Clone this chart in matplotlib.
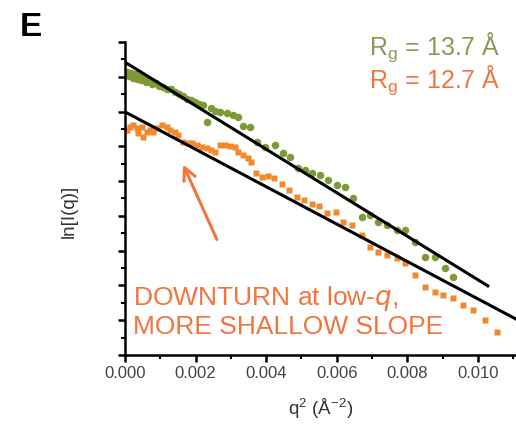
import numpy as np
import matplotlib.pyplot as plt
from matplotlib.ticker import MultipleLocator, FormatStrFormatter, NullFormatter

plt.rcParams['font.family'] = ['Liberation Sans', 'DejaVu Sans']
plt.rcParams['mathtext.default'] = 'regular'

GREEN = '#7d9a35'
ORANGE = '#f08a2c'
TXT_ORANGE = '#f2743e'

# Guinier data, ln I vs q^2 (1/A^2)
q2_a = [0.000057, 0.000113, 0.00017, 0.000227, 0.000283, 0.00034, 0.000397, 0.000453,
        0.00051, 0.000595, 0.00068, 0.000765, 0.00088, 0.000963, 0.001076, 0.00119,
        0.0013, 0.001416, 0.00153, 0.001643, 0.001756, 0.00187, 0.00198, 0.0021,
        0.00221, 0.00232, 0.00244, 0.00255, 0.00269, 0.00289, 0.00306, 0.0032,
        0.00334, 0.00354, 0.00374, 0.00397, 0.00425, 0.00448, 0.00467, 0.0049,
        0.0051, 0.0053, 0.00552, 0.00575, 0.006, 0.00623, 0.00646, 0.00671,
        0.00694, 0.00717, 0.00742, 0.00771, 0.00793, 0.00822, 0.0085, 0.00878,
        0.00907, 0.00929]
lnI_a = [4.014, 4.002, 4.011, 3.996, 4.008, 3.994, 4.002, 3.991,
         3.996, 3.985, 3.991, 3.979, 3.982, 3.973, 3.971, 3.965,
         3.965, 3.956, 3.950, 3.945, 3.936, 3.933, 3.927, 3.922,
         3.919, 3.870, 3.910, 3.902, 3.899, 3.896, 3.890, 3.884,
         3.858, 3.856, 3.812, 3.798, 3.804, 3.781, 3.769, 3.738,
         3.732, 3.723, 3.718, 3.703, 3.689, 3.683, 3.651, 3.597,
         3.603, 3.582, 3.574, 3.559, 3.559, 3.525, 3.482, 3.482,
         3.450, 3.424]

q2_b = [0.000057, 0.000142, 0.000227, 0.00034, 0.000368, 0.000482, 0.00051, 0.000623,
        0.000708, 0.000793, 0.000906, 0.001048, 0.00119, 0.001275, 0.001416, 0.0015,
        0.001643, 0.001785, 0.0019, 0.00204, 0.00218, 0.00232, 0.00244, 0.00255,
        0.00269, 0.00283, 0.00297, 0.00312, 0.0032, 0.00334, 0.00348, 0.00357,
        0.00371, 0.00388, 0.00405, 0.00422, 0.00445, 0.00465, 0.00487, 0.00507,
        0.0053, 0.0055, 0.00572, 0.00598, 0.00618, 0.00643, 0.00671, 0.00694,
        0.00717, 0.00742, 0.00771, 0.00793, 0.00822, 0.0085, 0.00878, 0.009,
        0.00929, 0.00958, 0.00986, 0.0102, 0.01054]
lnI_b = [3.847, 3.856, 3.861, 3.853, 3.838, 3.856, 3.827, 3.841,
         3.847, 3.841, 3.853, 3.861, 3.856, 3.847, 3.841, 3.833,
         3.812, 3.810, 3.810, 3.804, 3.798, 3.795, 3.789, 3.784,
         3.804, 3.804, 3.801, 3.798, 3.784, 3.775, 3.766, 3.755,
         3.723, 3.712, 3.715, 3.709, 3.692, 3.674, 3.654, 3.646,
         3.634, 3.628, 3.608, 3.611, 3.582, 3.574, 3.545, 3.511,
         3.496, 3.488, 3.479, 3.465, 3.430, 3.396, 3.381, 3.373,
         3.364, 3.344, 3.329, 3.301, 3.266]

# Guinier fits: ln I = ln I0 - Rg^2 q^2 / 3
Rg_a, lnI0_a = 13.7, 4.042
Rg_b, lnI0_b = 12.7, 3.899

fig = plt.figure(figsize=(5.16, 4.29), dpi=100)
ax = fig.add_axes([0.2422, 0.1725, 0.7578, 0.7296])

ax.plot(q2_a, lnI_a, 'o', color=GREEN, ms=5.4, mec='none', zorder=2)
ax.plot(q2_b, lnI_b, 's', color=ORANGE, ms=4.4, mec='none', zorder=2)

qa = np.array([0, 0.01028])
qb = np.array([0, 0.0115])
ax.plot(qa, lnI0_a - Rg_a**2 / 3 * qa, color='black', lw=2.2, zorder=3)
ax.plot(qb, lnI0_b - Rg_b**2 / 3 * qb, color='black', lw=2.2, zorder=3)

ax.set_xlim(0, 0.01108)
ax.set_ylim(3.2, 4.1)
ax.xaxis.set_major_locator(MultipleLocator(0.002))
ax.xaxis.set_minor_locator(MultipleLocator(0.001))
ax.xaxis.set_major_formatter(FormatStrFormatter('%.3f'))
ax.yaxis.set_major_locator(MultipleLocator(0.1))
ax.yaxis.set_minor_locator(MultipleLocator(0.05))
ax.yaxis.set_major_formatter(NullFormatter())

for s in ['top', 'right']:
    ax.spines[s].set_visible(False)
for s in ['left', 'bottom']:
    ax.spines[s].set_linewidth(1.8)
ax.tick_params(which='major', direction='out', length=5, width=1.8,
               labelsize=12, labelcolor='#444444', pad=3)
ax.tick_params(which='minor', direction='out', length=3.2, width=1.5)

ax.set_ylabel('ln[I(q)]', fontsize=13.5, color='#333333')
ax.yaxis.set_label_coords(-0.12, 0.46)
ax.set_xlabel(r'q$^{2}$ (Å$^{-2}$)', fontsize=13.5, color='#333333')
ax.xaxis.set_label_coords(0.499, -0.135)

fig.text(0.038, 0.937, 'E', fontsize=24, fontweight='bold', va='center')
fig.text(0.97, 0.872, r'R$_{g}$ = 13.7 Å', fontsize=18, color='#889a55',
         ha='right', va='baseline')
fig.text(0.97, 0.795, r'R$_{g}$ = 12.7 Å', fontsize=18, color=TXT_ORANGE,
         ha='right', va='baseline')

ax.annotate('', xy=(0.001615, 3.755), xytext=(0.002635, 3.525),
            arrowprops=dict(arrowstyle='->', color=TXT_ORANGE, lw=2.2,
                            mutation_scale=22))
ax.text(0.02, 0.14, 'DOWNTURN at low-$\\mathit{q}$,\nMORE SHALLOW SLOPE',
        transform=ax.transAxes, fontsize=19, color=TXT_ORANGE,
        ha='left', va='center', linespacing=1.1)

fig.savefig('out.png', dpi=100)
